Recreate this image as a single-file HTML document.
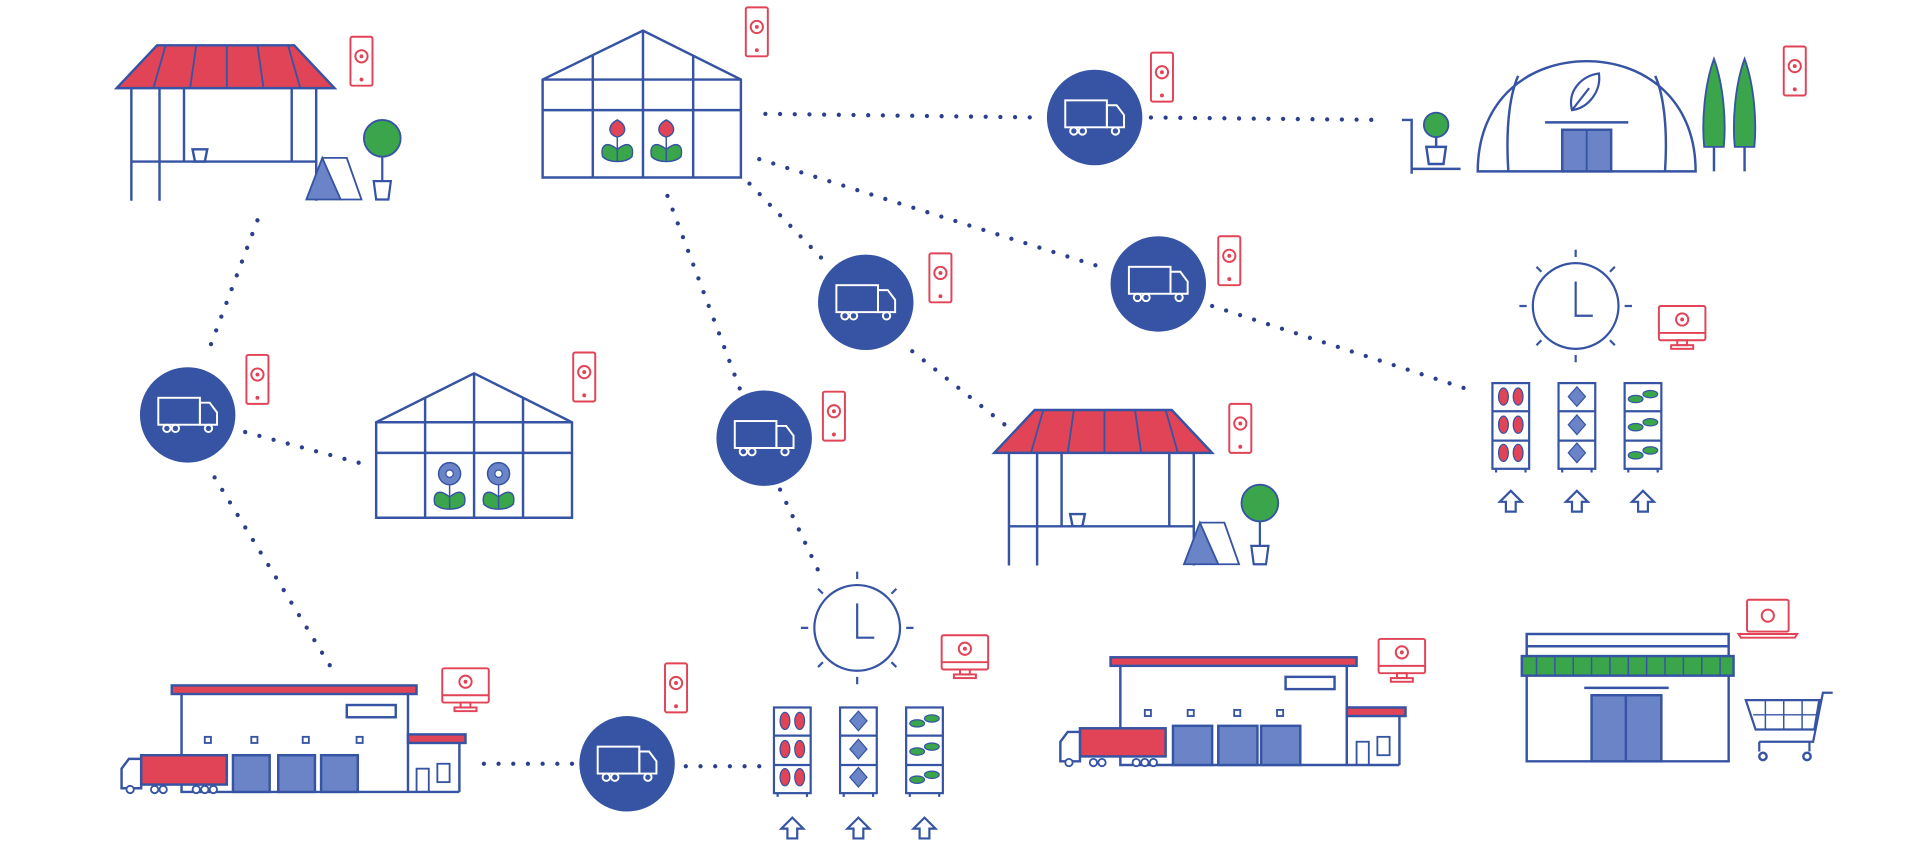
<!DOCTYPE html>
<html><head><meta charset="utf-8"><style>html,body{margin:0;padding:0;background:#fff;overflow:hidden}svg{display:block}</style></head>
<body>
<svg width="1920" height="847" viewBox="0 0 1568 692" xmlns="http://www.w3.org/2000/svg">
<defs>
<g id="truckc">
 <circle r="39" fill="#3654a3"/>
 <g fill="none" stroke="#fff" stroke-width="1.6">
  <rect x="-24" y="-14" width="34" height="22"/>
  <path d="M10 -10 h8 l6 8 v10 h-14z"/>
  <circle cx="-17" cy="11" r="3"/><circle cx="-10" cy="11" r="3"/><circle cx="17" cy="11" r="3"/>
 </g>
</g>
<g id="phone" fill="none" stroke="#e24457" stroke-width="1.6">
 <rect x="-9" y="-20" width="18" height="40" rx="1.5"/>
 <circle cx="0" cy="-4" r="5"/><circle cx="0" cy="-4" r="0.8" fill="#333"/><circle cx="0" cy="15" r="0.8" fill="#e24457"/>
</g>
<g id="monitor" fill="none" stroke="#e24457" stroke-width="1.6">
 <rect x="-19" y="-16" width="38" height="28" rx="1.5"/><line x1="-19" y1="6" x2="19" y2="6"/>
 <circle cx="0" cy="-5" r="5"/><circle cx="0" cy="-5" r="0.8" fill="#333"/>
 <rect x="-4" y="12" width="8" height="4"/><rect x="-9" y="16" width="18" height="3"/>
</g>
<g id="clock" fill="none" stroke="#3654a3" stroke-width="1.8">
 <circle r="35"/><path d="M0 -20 V8 H14"/>
 <path d="M0 -40v-6M0 40v6M-40 0h-6M40 0h6M28 -28l4 -4M-28 -28l-4 -4M28 28l4 4M-28 28l-4 4"/>
</g>
<g id="rack" fill="none" stroke="#3654a3" stroke-width="1.8">
 <rect x="0" y="0" width="30" height="70"/><path d="M0 23h30M0 47h30M3 70v3M27 70v3"/>
</g>
<g id="arrow" fill="none" stroke="#3654a3" stroke-width="1.8"><path d="M-4 8v-8h-5l9 -9 9 9h-5v8z"/></g>
<g id="stall">
 <path d="M0 35 L33 0 H145 L178 35Z" fill="#e24457" stroke="#3654a3" stroke-width="2"/>
 <path d="M40 0 L30 35M65 0 L60 35M90 0 L90 35M115 0L120 35M140 0 L150 35" stroke="#3654a3" stroke-width="1.5"/>
 <g stroke="#3654a3" stroke-width="2" fill="none">
  <path d="M12 35v92M35 35v92M55 35v60M143 35v60M163 35v92M12 95h151"/>
  <path d="M62 85h12l-2 10h-8z"/>
 </g>
 <path d="M155 126 L168 92 L183 126Z" fill="#6b84c8" stroke="#3654a3" stroke-width="1.5"/>
 <path d="M168 92 L188 92 L200 126 L183 126" fill="none" stroke="#3654a3" stroke-width="1.5"/>
 <circle cx="217" cy="76" r="15" fill="#3aa54a" stroke="#3654a3" stroke-width="1.5"/>
 <path d="M217 91v20M210 111h14l-2 15h-10z" fill="none" stroke="#3654a3" stroke-width="1.8"/>
</g>
<g id="flowerR"><path d="M0 12v22M0 24c-10 -8 -14 -2 -12 6 4 4 10 4 12 4M0 24c10 -8 14 -2 12 6 -4 4 -10 4 -12 4" fill="#3aa54a" stroke="#3654a3" stroke-width="1.2"/><path d="M0 0c-8 4 -8 12 0 14 8 -2 8 -10 0 -14z" fill="#e24457" stroke="#3654a3" stroke-width="1.2"/></g>
<g id="flowerB"><path d="M0 12v22M0 24c-10 -8 -14 -2 -12 6 4 4 10 4 12 4M0 24c10 -8 14 -2 12 6 -4 4 -10 4 -12 4" fill="#3aa54a" stroke="#3654a3" stroke-width="1.2"/><circle cx="0" cy="5" r="9" fill="#6b84c8" stroke="#3654a3" stroke-width="1.2"/><circle cx="0" cy="5" r="3" fill="#fff" stroke="#3654a3"/></g>
</defs>

<!-- dotted lines -->
<g stroke="#2c3f8c" stroke-width="3.5" stroke-linecap="round" stroke-dasharray="0 12" fill="none">
 <path d="M210 180 L168 292"/>
 <path d="M200 353 L300 380"/>
 <path d="M175 390 L270 545"/>
 <path d="M625 93 L850 96"/>
 <path d="M940 96 L1130 98"/>
 <path d="M620 130 L905 220"/>
 <path d="M612 150 L672 212"/>
 <path d="M745 287 L832 356"/>
 <path d="M990 250 L1205 320"/>
 <path d="M545 160 L605 320"/>
 <path d="M637 400 L670 470"/>
 <path d="M395 624 L470 624"/>
 <path d="M560 626 L622 626"/>
</g>

<!-- trucks -->
<use href="#truckc" x="153" y="339"/><use href="#truckc" x="894" y="96"/><use href="#truckc" x="707" y="247"/>
<use href="#truckc" x="946" y="232"/><use href="#truckc" x="624" y="358"/><use href="#truckc" x="512" y="624"/>

<!-- phones -->
<use href="#phone" x="295" y="50"/><use href="#phone" x="618" y="26"/><use href="#phone" x="949" y="63"/>
<use href="#phone" x="1466" y="58"/><use href="#phone" x="210" y="310"/><use href="#phone" x="477" y="308"/>
<use href="#phone" x="768" y="227"/><use href="#phone" x="1004" y="213"/><use href="#phone" x="681" y="340"/>
<use href="#phone" x="1013" y="350"/><use href="#phone" x="552" y="562"/>

<!-- monitors -->
<use href="#monitor" x="380" y="562"/><use href="#monitor" x="1374" y="266"/><use href="#monitor" x="788" y="535"/><use href="#monitor" x="1145" y="538"/>
<g fill="none" stroke="#e24457" stroke-width="1.6"><rect x="1427" y="490" width="34" height="26" rx="1.5"/><circle cx="1444" cy="503" r="5"/><path d="M1420 518h48l-2 3h-44z"/></g>

<!-- stalls -->
<use href="#stall" x="95" y="37"/>
<use href="#stall" x="812" y="335"/>

<!-- greenhouse top -->
<g fill="none" stroke="#3654a3" stroke-width="2">
 <path d="M443 65 L525 25 L605 65 V145 H443Z M443 65 H605 M484 45 V145 M525 25 V145 M566 45 V145 M443 90 H605"/>
</g>
<use href="#flowerR" x="504" y="98"/><use href="#flowerR" x="544" y="98"/>
<!-- greenhouse left -->
<g fill="none" stroke="#3654a3" stroke-width="2">
 <path d="M307 345 L387 305 L467 345 V423 H307Z M307 345 H467 M347 325 V423 M387 305 V423 M427 325 V423 M307 370 H467"/>
</g>
<use href="#flowerB" x="367" y="382"/><use href="#flowerB" x="407" y="382"/>

<!-- polytunnel -->
<g fill="none" stroke="#3654a3" stroke-width="2">
 <path d="M1207 140 C1207 80 1250 50 1296 50 C1342 50 1385 80 1385 140 Z"/>
 <path d="M1240 62 C1232 80 1230 110 1232 140 M1352 62 C1360 80 1362 110 1360 140 M1262 100 H1330"/>
 <path d="M1145 98 h8 v40 h40 M1153 138 v4"/>
 <path d="M1165 120 h16 l-2 14 h-12z M1173 112 v8"/>
</g>
<circle cx="1173" cy="102" r="10" fill="#3aa54a" stroke="#3654a3" stroke-width="1.5"/>
<rect x="1276" y="106" width="40" height="34" fill="#6b84c8" stroke="#3654a3" stroke-width="2"/>
<line x1="1296" y1="106" x2="1296" y2="140" stroke="#3654a3" stroke-width="1.5"/>
<path d="M1284 90 c-4 -16 8 -28 22 -30 c2 14 -8 28 -22 30z M1284 90 l14 -18" fill="none" stroke="#3654a3" stroke-width="1.8"/>
<path d="M1400 48 C1392 70 1390 100 1392 120 H1408 C1410 100 1408 70 1400 48Z" fill="#3aa54a" stroke="#3654a3" stroke-width="1.5"/>
<path d="M1425 48 C1417 70 1415 100 1417 120 H1433 C1435 100 1433 70 1425 48Z" fill="#3aa54a" stroke="#3654a3" stroke-width="1.5"/>
<path d="M1400 120v20M1425 120v20" stroke="#3654a3" stroke-width="2"/>

<!-- clocks -->
<use href="#clock" x="1287" y="250"/><use href="#clock" x="700" y="513"/>

<!-- racks right -->
<g>
 <use href="#rack" x="1219" y="313"/><use href="#rack" x="1273" y="313"/><use href="#rack" x="1327" y="313"/>
 <g fill="#e24457" stroke="#3654a3" stroke-width="1"><ellipse cx="1228" cy="324" rx="4" ry="7"/><ellipse cx="1240" cy="324" rx="4" ry="7"/><ellipse cx="1228" cy="347" rx="4" ry="7"/><ellipse cx="1240" cy="347" rx="4" ry="7"/><ellipse cx="1228" cy="370" rx="4" ry="7"/><ellipse cx="1240" cy="370" rx="4" ry="7"/></g>
 <g fill="#6b84c8" stroke="#3654a3" stroke-width="1"><path d="M1288 316l7 8-7 8-7-8z M1288 339l7 8-7 8-7-8z M1288 362l7 8-7 8-7-8z"/></g>
 <g fill="#3aa54a" stroke="#3654a3" stroke-width="1"><ellipse cx="1336" cy="326" rx="6" ry="3"/><ellipse cx="1348" cy="322" rx="6" ry="3"/><ellipse cx="1336" cy="349" rx="6" ry="3"/><ellipse cx="1348" cy="345" rx="6" ry="3"/><ellipse cx="1336" cy="372" rx="6" ry="3"/><ellipse cx="1348" cy="368" rx="6" ry="3"/></g>
 <use href="#arrow" x="1234" y="410"/><use href="#arrow" x="1288" y="410"/><use href="#arrow" x="1342" y="410"/>
</g>
<!-- racks bottom -->
<g>
 <use href="#rack" x="632" y="578"/><use href="#rack" x="686" y="578"/><use href="#rack" x="740" y="578"/>
 <g fill="#e24457" stroke="#3654a3" stroke-width="1"><ellipse cx="641" cy="589" rx="4" ry="7"/><ellipse cx="653" cy="589" rx="4" ry="7"/><ellipse cx="641" cy="612" rx="4" ry="7"/><ellipse cx="653" cy="612" rx="4" ry="7"/><ellipse cx="641" cy="635" rx="4" ry="7"/><ellipse cx="653" cy="635" rx="4" ry="7"/></g>
 <g fill="#6b84c8" stroke="#3654a3" stroke-width="1"><path d="M701 581l7 8-7 8-7-8z M701 604l7 8-7 8-7-8z M701 627l7 8-7 8-7-8z"/></g>
 <g fill="#3aa54a" stroke="#3654a3" stroke-width="1"><ellipse cx="749" cy="591" rx="6" ry="3"/><ellipse cx="761" cy="587" rx="6" ry="3"/><ellipse cx="749" cy="614" rx="6" ry="3"/><ellipse cx="761" cy="610" rx="6" ry="3"/><ellipse cx="749" cy="637" rx="6" ry="3"/><ellipse cx="761" cy="633" rx="6" ry="3"/></g>
 <use href="#arrow" x="647" y="677"/><use href="#arrow" x="701" y="677"/><use href="#arrow" x="755" y="677"/>
</g>

<!-- warehouse bottom left -->
<g stroke="#3654a3" stroke-width="2">
 <rect x="140" y="686" width="0" height="0"/>
 <rect x="140" y="560" width="200" height="7" fill="#e24457"/>
 <path d="M148 567 V647 H375 M333 567 V647 M375 607 V647" fill="none"/>
 <rect x="333" y="600" width="47" height="7" fill="#e24457"/>
 <rect x="283" y="576" width="40" height="10" fill="none"/>
 <rect x="190" y="617" width="30" height="30" fill="#6b84c8"/><rect x="227" y="617" width="30" height="30" fill="#6b84c8"/><rect x="262" y="617" width="30" height="30" fill="#6b84c8"/>
 <g fill="none" stroke-width="1.5"><rect x="205" y="602" width="5" height="5"/><rect x="247" y="602" width="5" height="5"/><rect x="291" y="602" width="5" height="5"/><rect x="167" y="602" width="5" height="5"/><rect x="340" y="628" width="10" height="19"/><rect x="357" y="624" width="10" height="15"/></g>
 <rect x="143" y="615" width="83" height="0" />
 <rect x="115" y="617" width="70" height="24" fill="#e24457"/>
 <path d="M115 620 h-10 l-6 8 v16 h16z" fill="#fff"/>
 <g fill="#fff" stroke-width="1.5"><circle cx="106" cy="645" r="3"/><circle cx="126" cy="645" r="3"/><circle cx="133" cy="645" r="3"/><circle cx="160" cy="645" r="3"/><circle cx="167" cy="645" r="3"/><circle cx="174" cy="645" r="3"/></g>
</g>

<!-- warehouse bottom middle -->
<g stroke="#3654a3" stroke-width="2">
 <rect x="907" y="537" width="201" height="7" fill="#e24457"/>
 <path d="M915 544 V625 H1143 M1100 544 V625 M1143 585 V625" fill="none"/>
 <rect x="1100" y="578" width="48" height="7" fill="#e24457"/>
 <rect x="1050" y="553" width="40" height="10" fill="none"/>
 <rect x="958" y="593" width="32" height="32" fill="#6b84c8"/><rect x="995" y="593" width="32" height="32" fill="#6b84c8"/><rect x="1030" y="593" width="32" height="32" fill="#6b84c8"/>
 <g fill="none" stroke-width="1.5"><rect x="970" y="580" width="5" height="5"/><rect x="1008" y="580" width="5" height="5"/><rect x="1043" y="580" width="5" height="5"/><rect x="935" y="580" width="5" height="5"/><rect x="1108" y="606" width="10" height="19"/><rect x="1125" y="602" width="10" height="15"/></g>
 <rect x="882" y="595" width="70" height="23" fill="#e24457"/>
 <path d="M882 598 h-10 l-6 8 v16 h16z" fill="#fff"/>
 <g fill="#fff" stroke-width="1.5"><circle cx="873" cy="623" r="3"/><circle cx="893" cy="623" r="3"/><circle cx="900" cy="623" r="3"/><circle cx="928" cy="623" r="3"/><circle cx="935" cy="623" r="3"/><circle cx="942" cy="623" r="3"/></g>
</g>

<!-- store -->
<g stroke="#3654a3" stroke-width="2">
 <path d="M1247 518 H1412 V622 H1247Z M1247 528 H1412" fill="none"/>
 <rect x="1243" y="536" width="173" height="16" fill="#3aa54a"/>
 <path d="M1255 536v16M1270 536v16M1285 536v16M1300 536v16M1315 536v16M1330 536v16M1345 536v16M1360 536v16M1375 536v16M1390 536v16M1405 536v16" stroke-width="1.2"/>
 <rect x="1300" y="568" width="57" height="54" fill="#6b84c8"/>
 <path d="M1328 568v54M1294 562h69" fill="none"/>
 <path d="M1497 566 h-8 l-8 40 h-44 M1426 572 h60 l-4 24 h-48z M1437 606 v8 M1478 606 v8" fill="none" stroke-width="1.8"/>
 <path d="M1442 572v24M1457 572v24M1472 572v24M1432 584h52" fill="none" stroke-width="1.2"/>
 <circle cx="1440" cy="618" r="3" fill="#fff"/><circle cx="1476" cy="618" r="3" fill="#fff"/>
</g>
</svg>
</body></html>
